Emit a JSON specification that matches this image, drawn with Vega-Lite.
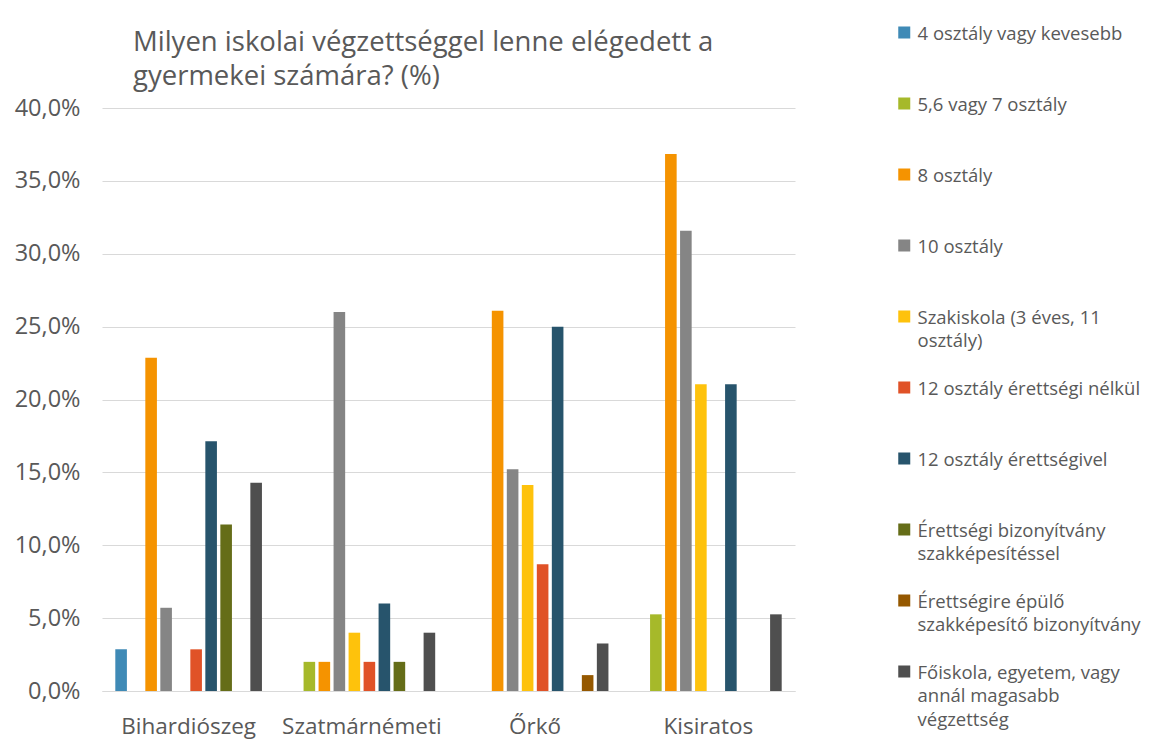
{
  "$schema": "https://vega.github.io/schema/vega-lite/v6.json",
  "autosize": {"type": "none"},
  "width": 693,
  "height": 583,
  "padding": {"left": 102, "top": 108, "right": 378, "bottom": 51},
  "background": "white",
  "title": {
    "text": ["Milyen iskolai végzettséggel lenne elégedett a", "gyermekei számára? (%)"],
    "anchor": "start",
    "frame": "group",
    "dx": 31,
    "offset": -93.3,
    "baseline": "top",
    "font": "Open Sans",
    "fontSize": 27.5,
    "fontWeight": "normal",
    "color": "#595959",
    "lineHeight": 34.5
  },
  "data": {
    "values": [
      {"telepules": "Bihardiószeg", "vegzettseg": "4 osztály vagy kevesebb", "szazalek": 2.86},
      {"telepules": "Bihardiószeg", "vegzettseg": "8 osztály", "szazalek": 22.86},
      {"telepules": "Bihardiószeg", "vegzettseg": "10 osztály", "szazalek": 5.71},
      {"telepules": "Bihardiószeg", "vegzettseg": "12 osztály érettségi nélkül", "szazalek": 2.86},
      {"telepules": "Bihardiószeg", "vegzettseg": "12 osztály érettségivel", "szazalek": 17.14},
      {"telepules": "Bihardiószeg", "vegzettseg": "Érettségi bizonyítvány szakképesítéssel", "szazalek": 11.43},
      {"telepules": "Bihardiószeg", "vegzettseg": "Főiskola, egyetem, vagy annál magasabb végzettség", "szazalek": 14.29},
      {"telepules": "Szatmárnémeti", "vegzettseg": "5,6 vagy 7 osztály", "szazalek": 2.0},
      {"telepules": "Szatmárnémeti", "vegzettseg": "8 osztály", "szazalek": 2.0},
      {"telepules": "Szatmárnémeti", "vegzettseg": "10 osztály", "szazalek": 26.0},
      {"telepules": "Szatmárnémeti", "vegzettseg": "Szakiskola (3 éves, 11 osztály)", "szazalek": 4.0},
      {"telepules": "Szatmárnémeti", "vegzettseg": "12 osztály érettségi nélkül", "szazalek": 2.0},
      {"telepules": "Szatmárnémeti", "vegzettseg": "12 osztály érettségivel", "szazalek": 6.0},
      {"telepules": "Szatmárnémeti", "vegzettseg": "Érettségi bizonyítvány szakképesítéssel", "szazalek": 2.0},
      {"telepules": "Szatmárnémeti", "vegzettseg": "Főiskola, egyetem, vagy annál magasabb végzettség", "szazalek": 4.0},
      {"telepules": "Őrkő", "vegzettseg": "8 osztály", "szazalek": 26.09},
      {"telepules": "Őrkő", "vegzettseg": "10 osztály", "szazalek": 15.22},
      {"telepules": "Őrkő", "vegzettseg": "Szakiskola (3 éves, 11 osztály)", "szazalek": 14.13},
      {"telepules": "Őrkő", "vegzettseg": "12 osztály érettségi nélkül", "szazalek": 8.7},
      {"telepules": "Őrkő", "vegzettseg": "12 osztály érettségivel", "szazalek": 25.0},
      {"telepules": "Őrkő", "vegzettseg": "Érettségire épülő szakképesítő bizonyítvány", "szazalek": 1.09},
      {"telepules": "Őrkő", "vegzettseg": "Főiskola, egyetem, vagy annál magasabb végzettség", "szazalek": 3.26},
      {"telepules": "Kisiratos", "vegzettseg": "5,6 vagy 7 osztály", "szazalek": 5.26},
      {"telepules": "Kisiratos", "vegzettseg": "8 osztály", "szazalek": 36.84},
      {"telepules": "Kisiratos", "vegzettseg": "10 osztály", "szazalek": 31.58},
      {"telepules": "Kisiratos", "vegzettseg": "Szakiskola (3 éves, 11 osztály)", "szazalek": 21.05},
      {"telepules": "Kisiratos", "vegzettseg": "12 osztály érettségivel", "szazalek": 21.05},
      {"telepules": "Kisiratos", "vegzettseg": "Főiskola, egyetem, vagy annál magasabb végzettség", "szazalek": 5.26}
    ]
  },
  "mark": {"type": "bar"},
  "encoding": {
    "x": {
      "field": "telepules",
      "type": "nominal",
      "sort": ["Bihardiószeg", "Szatmárnémeti", "Őrkő", "Kisiratos"],
      "scale": {"paddingInner": 0.134, "paddingOuter": 0.067},
      "axis": {
        "title": null,
        "labelAngle": 0,
        "ticks": false,
        "grid": false,
        "domain": true,
        "domainColor": "#d9d9d9",
        "domainWidth": 1,
        "labelFont": "Open Sans",
        "labelFontSize": 22.5,
        "labelColor": "#595959",
        "labelPadding": 24,
        "labelBaseline": "top"
      }
    },
    "xOffset": {
      "field": "vegzettseg",
      "type": "nominal",
      "scale": {
        "domain": [
          "4 osztály vagy kevesebb",
          "5,6 vagy 7 osztály",
          "8 osztály",
          "10 osztály",
          "Szakiskola (3 éves, 11 osztály)",
          "12 osztály érettségi nélkül",
          "12 osztály érettségivel",
          "Érettségi bizonyítvány szakképesítéssel",
          "Érettségire épülő szakképesítő bizonyítvány",
          "Főiskola, egyetem, vagy annál magasabb végzettség"
        ],
        "paddingInner": 0.227,
        "paddingOuter": 0.113
      }
    },
    "y": {
      "field": "szazalek",
      "type": "quantitative",
      "scale": {"domain": [0, 40]},
      "axis": {
        "title": null,
        "values": [0, 5, 10, 15, 20, 25, 30, 35, 40],
        "labelExpr": "replace(format(datum.value, '.1f'), '.', ',') + '%'",
        "domain": false,
        "ticks": false,
        "labelPadding": 22,
        "labelFont": "Open Sans",
        "labelFontSize": 23.5,
        "labelColor": "#595959",
        "gridColor": "#d9d9d9",
        "gridWidth": 1
      }
    },
    "color": {
      "field": "vegzettseg",
      "type": "nominal",
      "scale": {
        "domain": [
          "4 osztály vagy kevesebb",
          "5,6 vagy 7 osztály",
          "8 osztály",
          "10 osztály",
          "Szakiskola (3 éves, 11 osztály)",
          "12 osztály érettségi nélkül",
          "12 osztály érettségivel",
          "Érettségi bizonyítvány szakképesítéssel",
          "Érettségire épülő szakképesítő bizonyítvány",
          "Főiskola, egyetem, vagy annál magasabb végzettség"
        ],
        "range": ["#3f8ab6", "#a6b92a", "#f59300", "#858585", "#fec20c", "#e05227", "#27546c", "#656d18", "#955800", "#4f4f4f"]
      },
      "legend": {
        "title": null,
        "orient": "none",
        "legendX": 793,
        "legendY": -110.6,
        "direction": "vertical",
        "columns": 1,
        "symbolType": "square",
        "symbolSize": 144,
        "symbolStrokeWidth": 0,
        "symbolOpacity": 1,
        "labelOffset": 4,
        "clipHeight": 70.2,
        "rowPadding": 0,
        "padding": 0,
        "labelFont": "Open Sans",
        "labelFontSize": 18.5,
        "labelColor": "#595959",
        "labelBaseline": "top",
        "labelLimit": 400,
        "labelExpr": "datum.label == 'Szakiskola (3 éves, 11 osztály)' ? ['Szakiskola (3 éves, 11', 'osztály)'] : datum.label == 'Érettségi bizonyítvány szakképesítéssel' ? ['Érettségi bizonyítvány', 'szakképesítéssel'] : datum.label == 'Érettségire épülő szakképesítő bizonyítvány' ? ['Érettségire épülő', 'szakképesítő bizonyítvány'] : datum.label == 'Főiskola, egyetem, vagy annál magasabb végzettség' ? ['Főiskola, egyetem, vagy', 'annál magasabb', 'végzettség'] : datum.label",
        "encode": {
          "labels": {
            "update": {
              "dy": {"value": -7.8},
              "lineHeight": {"value": 23.5}
            }
          }
        }
      }
    }
  },
  "config": {
    "view": {"stroke": null},
    "font": "Open Sans"
  }
}
